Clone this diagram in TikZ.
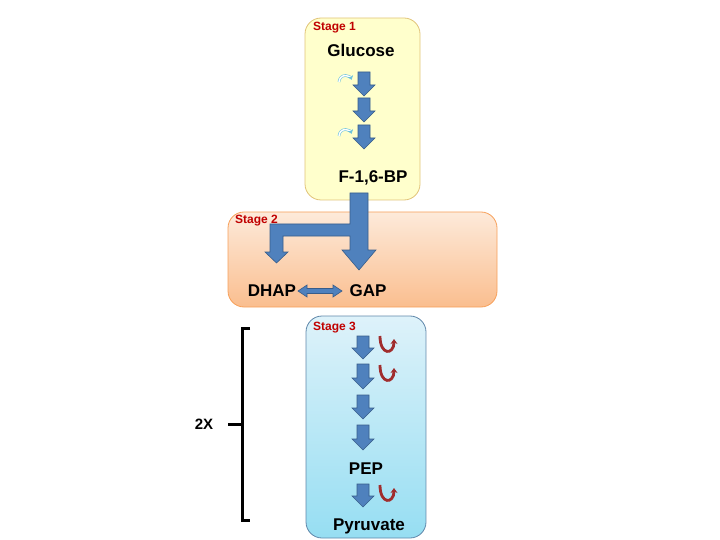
\documentclass[tikz,border=0pt]{standalone}
\usepackage{fontspec}
\setmainfont{Liberation Sans}
\usetikzlibrary{arrows.meta}
\definecolor{arrowblue}{RGB}{79,129,189}
\definecolor{arrowedge}{RGB}{56,93,138}
\definecolor{stagered}{RGB}{192,0,0}
\definecolor{curvered}{RGB}{160,45,45}
\definecolor{curvecyan}{RGB}{110,195,220}

% one downward block arrow: x, top, tip
\newcommand{\stepArrow}[3]{%
  \path[blockarrow] (#1-6,#2) -- (#1+6,#2) -- (#1+6,#3-11) -- (#1+11,#3-11)
    -- (#1,#3) -- (#1-11,#3-11) -- (#1-6,#3-11) -- cycle;}

\begin{document}
\begin{tikzpicture}[x=1pt,y=-1pt,
    blockarrow/.style={fill=arrowblue,draw=arrowedge,line width=0.6pt,line join=miter},
    stagebox/.style={rounded corners=16pt,line width=0.8pt},
    stagelabel/.style={text=stagered,font=\bfseries\fontsize{12}{12}\selectfont,inner sep=0pt,anchor=west},
    metab/.style={font=\bfseries\fontsize{17}{17}\selectfont,inner sep=0pt},
    cyancurve/.style={draw=curvecyan,line width=0.6pt,double=white,double distance=1.4pt,-{Stealth[length=4pt,width=6pt]}},
    redcurve/.style={draw=curvered,line width=2.8pt,-{Stealth[length=5pt,width=7pt]}}]
    \useasboundingbox (0,0) rectangle (720,540);

    % Stage 1
    \path[stagebox,draw={rgb,255:red,225;green,195;blue,120},fill={rgb,255:red,255;green,255;blue,204}]
        (305,18) rectangle (420,200);
    % Stage 2
    \path[stagebox,draw={rgb,255:red,247;green,160;blue,90},
        top color={rgb,255:red,253;green,234;blue,218},bottom color={rgb,255:red,250;green,190;blue,143}]
        (228,212) rectangle (497,307);
    % Stage 3
    \path[stagebox,draw={rgb,255:red,95;green,135;blue,170},
        top color={rgb,255:red,222;green,242;blue,250},bottom color={rgb,255:red,150;green,222;blue,242}]
        (306,316) rectangle (426,538);

    \node[stagelabel] (s1) at (313,28) {Stage 1};
    \node[stagelabel] (s2) at (235,221) {Stage 2};
    \node[stagelabel] (s3) at (313,328) {Stage 3};

    \node[metab] (glu) at (361,50) {Glucose};
    \node[metab] (fbp) at (373,178) {F-1,6-BP};
    \node[metab] (dhap) at (272,291) {DHAP};
    \node[metab] (gap) at (368,291) {GAP};
    \node[metab] (pep) at (366,469) {PEP};
    \node[metab] (pyr) at (369,526) {Pyruvate};

    % stage 1 steps
    \stepArrow{364}{72}{96}
    \stepArrow{364}{98}{122}
    \stepArrow{364}{125}{149}
    \draw[cyancurve] (339,82) arc[start angle=180,end angle=340,radius=6.5];
    \draw[cyancurve] (339,136) arc[start angle=180,end angle=340,radius=6.5];

    % split into DHAP and GAP
    \path[blockarrow] (350,193) -- (368,193) -- (368,250) -- (376,250) -- (359,270)
        -- (342,250) -- (350,250) -- (350,236) -- (283,236) -- (283,252) -- (288,252)
        -- (276.5,263) -- (265,252) -- (270,252) -- (270,224) -- (350,224) -- cycle;
    % DHAP <-> GAP
    \path[blockarrow] (298,291) -- (307,285) -- (307,288.5) -- (333,288.5) -- (333,285)
        -- (342,291) -- (333,297) -- (333,293.5) -- (307,293.5) -- (307,297) -- cycle;

    % stage 3 steps
    \stepArrow{363}{336}{359}
    \stepArrow{363}{364}{389}
    \stepArrow{363}{395}{419}
    \stepArrow{363}{425}{450}
    \stepArrow{363}{484}{507}
    \draw[redcurve] (380,336) .. controls (380,356) and (394,355) .. (394,339);
    \draw[redcurve] (380,365) .. controls (380,385) and (394,384) .. (394,368);
    \draw[redcurve] (380,485) .. controls (380,505) and (394,504) .. (394,488);

    % bracket for both halves
    \coordinate (btop) at (242,328);
    \coordinate (bbot) at (242,520);
    \coordinate (bmid) at (242,424);
    \draw[line width=3pt] ([xshift=8pt]btop) -- (btop) -- (bbot) -- ([xshift=8pt]bbot);
    \draw[line width=3pt] (bmid) -- ([xshift=-14pt]bmid);
    \node[font=\bfseries\fontsize{15}{15}\selectfont,inner sep=0pt] (twox) at (204,424) {2X};
\end{tikzpicture}
\end{document}
